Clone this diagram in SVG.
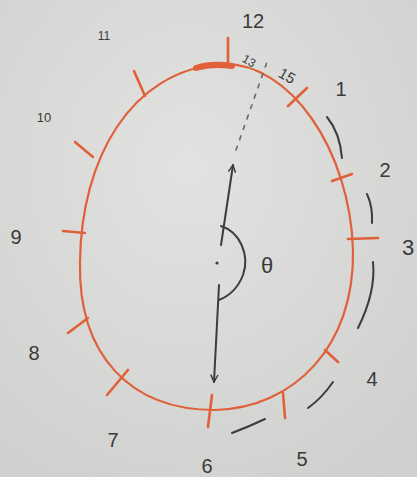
<svg xmlns="http://www.w3.org/2000/svg" width="417" height="477" viewBox="0 0 417 477">
<defs>
<radialGradient id="bg" cx="0.45" cy="0.35" r="0.8">
<stop offset="0" stop-color="#e2e2e0"/>
<stop offset="1" stop-color="#cfcfcd"/>
</radialGradient>
<marker id="ah" viewBox="0 0 10 10" refX="9" refY="5" markerWidth="9" markerHeight="9" orient="auto-start-reverse" markerUnits="userSpaceOnUse">
<path d="M1 1 L9 5 L1 9" fill="none" stroke="#3a3a3a" stroke-width="1.6"/>
</marker>
</defs>
<style>
.egg{fill:none;stroke:#e0603a;stroke-width:2.2}
.tick{stroke:#e0603a;stroke-width:2.6;stroke-linecap:round;fill:none}
.ink{stroke:#3c3c3c;stroke-width:2;fill:none;stroke-linecap:round}
.dash{stroke:#3c3c3c;stroke-width:2;fill:none;stroke-linecap:round}
.lbl{font-family:"Liberation Sans",Arial,sans-serif;fill:#3a3a3a;text-anchor:middle}
</style>
<rect width="417" height="477" fill="url(#bg)"/>

<g id="egg">
<path class="egg" d="M 222 64 C 290 62, 350 150, 353 250 C 355 345, 295 408, 215 410 C 130 410, 78 355, 80 262 C 81 160, 130 70, 222 64 Z"/>
<path d="M 196 68 Q 212 63 232 66" stroke="#e0603a" stroke-width="6" fill="none" stroke-linecap="round"/>
</g>

<g id="ticks">
<line class="tick" x1="228" y1="38" x2="228" y2="64"/>
<line class="tick" x1="288" y1="106" x2="307" y2="88"/>
<line class="tick" x1="332" y1="181" x2="352" y2="174"/>
<line class="tick" x1="348" y1="239" x2="378" y2="238"/>
<line class="tick" x1="325" y1="350" x2="338" y2="362"/>
<line class="tick" x1="283" y1="393" x2="285" y2="418"/>
<line class="tick" x1="212" y1="395" x2="208" y2="427"/>
<line class="tick" x1="128" y1="370" x2="107" y2="395"/>
<line class="tick" x1="88" y1="318" x2="68" y2="333"/>
<line class="tick" x1="85" y1="233" x2="63" y2="231"/>
<line class="tick" x1="93" y1="157" x2="75" y2="142"/>
<line class="tick" x1="145" y1="96" x2="134" y2="71"/>
</g>

<g id="sweep-dashes">
<path class="dash" d="M 327 117 Q 340 133 342 158"/>
<path class="dash" d="M 367 194 Q 373 207 372 223"/>
<path class="dash" d="M 373 262 Q 376 292 358 328"/>
<path class="dash" d="M 333 382 Q 322 398 308 408"/>
<path class="dash" d="M 265 419 Q 248 427 232 433"/>
</g>

<g id="hands">
<line x1="236" y1="150" x2="267" y2="62" stroke="#6a6a6a" stroke-width="1.6" stroke-dasharray="4 7" stroke-linecap="round"/>
<line class="ink" x1="221" y1="245" x2="233" y2="165" marker-end="url(#ah)"/>
<line class="ink" x1="219" y1="285" x2="214" y2="382" marker-end="url(#ah)"/>
<circle cx="217" cy="263" r="1.6" fill="#3c3c3c"/>
<path class="ink" d="M 221 226 C 240 232, 250 255, 243 275 C 238 288, 229 296, 219 300"/>
</g>

<g id="labels">
<text class="lbl" x="253" y="28" font-size="20">12</text>
<text class="lbl" x="341" y="96" font-size="20">1</text>
<text class="lbl" x="385" y="177" font-size="20">2</text>
<text class="lbl" x="408" y="255" font-size="22">3</text>
<text class="lbl" x="372" y="386" font-size="20">4</text>
<text class="lbl" x="302" y="466" font-size="20">5</text>
<text class="lbl" x="207" y="473" font-size="20">6</text>
<text class="lbl" x="113" y="447" font-size="20">7</text>
<text class="lbl" x="34" y="360" font-size="20">8</text>
<text class="lbl" x="16" y="244" font-size="20">9</text>
<text class="lbl" x="44" y="122" font-size="13">10</text>
<text class="lbl" x="104" y="40" font-size="12">11</text>
<text class="lbl" x="267" y="273" font-size="22">θ</text>
<text class="lbl" x="249" y="65" font-size="12" transform="rotate(30 249 61)">13</text>
<text class="lbl" x="287" y="81" font-size="15" transform="rotate(30 287 76)">15</text>
</g>
</svg>
